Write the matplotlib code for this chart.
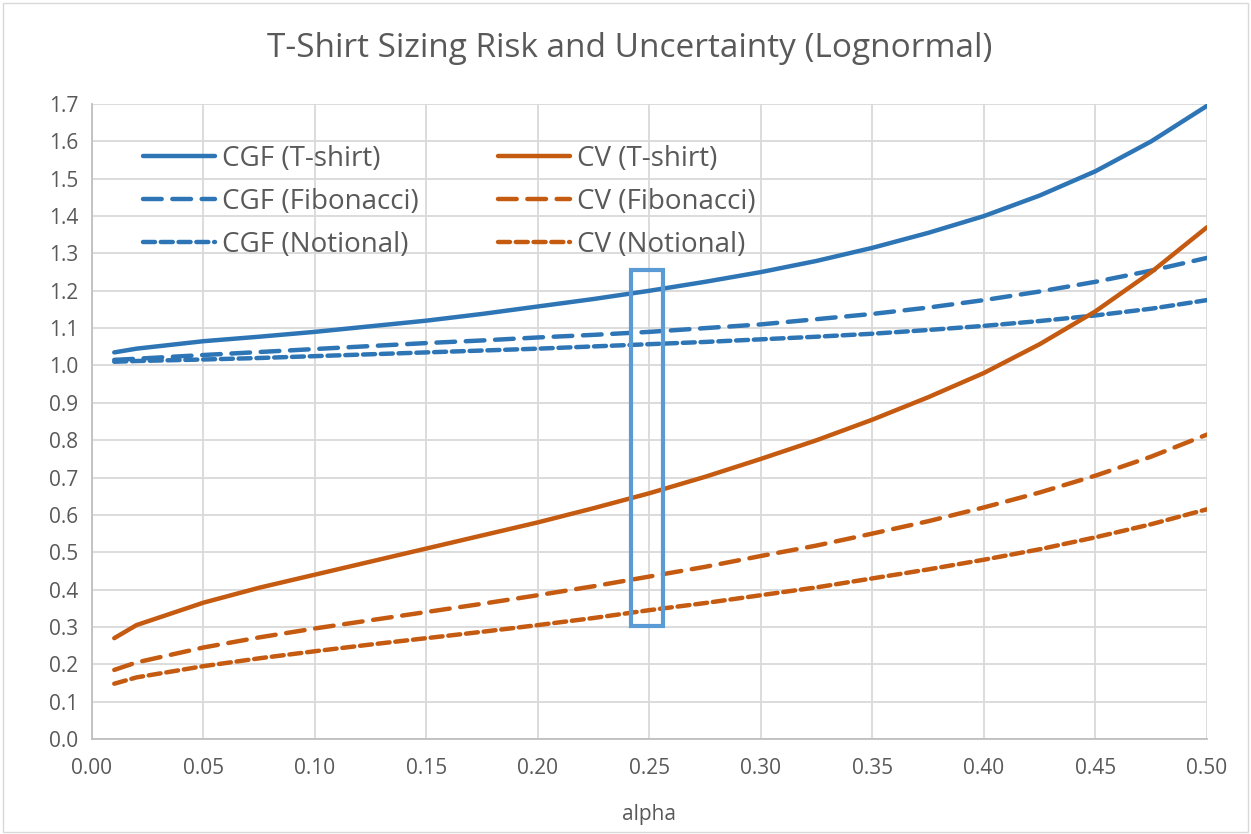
import matplotlib
matplotlib.use("Agg")
import matplotlib.pyplot as plt
import matplotlib.patches as patches
import numpy as np

# alpha values and the six curves
alpha = [0.01, 0.02, 0.05, 0.075, 0.10, 0.125, 0.15, 0.175, 0.20, 0.225, 0.25,
         0.275, 0.30, 0.325, 0.35, 0.375, 0.40, 0.425, 0.45, 0.475, 0.50]

cgf_tshirt = [1.035, 1.045, 1.065, 1.077, 1.090, 1.105, 1.120, 1.138, 1.158, 1.178, 1.200,
              1.224, 1.250, 1.280, 1.315, 1.355, 1.400, 1.455, 1.520, 1.600, 1.695]
cgf_fib = [1.015, 1.018, 1.028, 1.036, 1.044, 1.052, 1.060, 1.067, 1.075, 1.082, 1.090,
           1.100, 1.110, 1.124, 1.138, 1.155, 1.175, 1.198, 1.224, 1.254, 1.288]
cgf_notional = [1.010, 1.012, 1.016, 1.020, 1.025, 1.030, 1.035, 1.040, 1.045, 1.051, 1.057,
                1.063, 1.070, 1.077, 1.085, 1.095, 1.106, 1.119, 1.134, 1.152, 1.175]
cv_tshirt = [0.270, 0.305, 0.365, 0.405, 0.440, 0.475, 0.510, 0.545, 0.580, 0.618, 0.658,
             0.702, 0.750, 0.800, 0.855, 0.915, 0.980, 1.057, 1.145, 1.250, 1.370]
cv_fib = [0.185, 0.205, 0.245, 0.272, 0.296, 0.318, 0.340, 0.362, 0.385, 0.409, 0.435,
          0.461, 0.490, 0.518, 0.550, 0.583, 0.620, 0.660, 0.705, 0.756, 0.815]
cv_notional = [0.148, 0.165, 0.195, 0.216, 0.235, 0.253, 0.270, 0.287, 0.305, 0.324, 0.345,
               0.364, 0.385, 0.406, 0.430, 0.454, 0.480, 0.508, 0.540, 0.575, 0.615]

# highlighted band around alpha = 0.25
band_x = (0.2417, 0.2560)
band_y = (0.303, 1.256)

BLUE = '#2E75B6'
ORANGE = '#C55A11'
GREY_TXT = '#595959'
GRID = '#D9D9D9'

plt.rcParams['font.family'] = ['Open Sans', 'DejaVu Sans']

fig = plt.figure(figsize=(12.51, 8.34), dpi=100)
ax = fig.add_axes([0.0735, 0.1139, 0.8913, 0.7614])

lw = 3.2
long_dash = (4.2, 2.4)
short_dash = (2.7, 1.3)

series = [
    (cgf_tshirt, BLUE, None, 'CGF (T-shirt)'),
    (cgf_fib, BLUE, long_dash, 'CGF (Fibonacci)'),
    (cgf_notional, BLUE, short_dash, 'CGF (Notional)'),
    (cv_tshirt, ORANGE, None, 'CV (T-shirt)'),
    (cv_fib, ORANGE, long_dash, 'CV (Fibonacci)'),
    (cv_notional, ORANGE, short_dash, 'CV (Notional)'),
]
for ys, col, dash, label in series:
    line, = ax.plot(alpha, ys, color=col, lw=lw, label=label,
                    solid_capstyle='round', dash_capstyle='round')
    if dash is not None:
        line.set_dashes(dash)

rect = patches.Rectangle(
    (band_x[0], band_y[0]), band_x[1] - band_x[0], band_y[1] - band_y[0],
    linewidth=3.0, edgecolor='#5B9BD5', facecolor='none', zorder=5,
)
ax.add_patch(rect)

ax.set_xlim(0, 0.5)
ax.set_ylim(0, 1.7)
ax.set_xticks(np.arange(0, 0.501, 0.05))
ax.set_yticks(np.arange(0, 1.701, 0.1))
ax.xaxis.set_major_formatter(matplotlib.ticker.FormatStrFormatter('%.2f'))
ax.yaxis.set_major_formatter(matplotlib.ticker.FormatStrFormatter('%.1f'))
ax.tick_params(length=0, labelsize=15, labelcolor=GREY_TXT)
ax.tick_params(axis='x', pad=14)
ax.tick_params(axis='y', pad=10)
ax.grid(True, color=GRID, lw=1.3)
ax.set_axisbelow(True)
for side in ['top', 'right']:
    ax.spines[side].set_visible(False)
for side in ['left', 'bottom']:
    ax.spines[side].set_color('#BFBFBF')
    ax.spines[side].set_linewidth(1.3)

ax.set_xlabel('alpha', fontsize=15, color=GREY_TXT, labelpad=18)

leg = ax.legend(ncol=2, loc='upper left', bbox_to_anchor=(0.033, 0.958),
                frameon=False, fontsize=20, borderpad=0, handlelength=2.6,
                handletextpad=0.25, columnspacing=2.85, labelspacing=0.55,
                labelcolor=GREY_TXT)

fig.text(0.503, 0.942, 'T-Shirt Sizing Risk and Uncertainty (Lognormal)',
         ha='center', va='center', fontsize=24, color=GREY_TXT)

fig.patches.append(patches.Rectangle((0.002, 0.002), 0.996, 0.994, transform=fig.transFigure,
                                     fill=False, edgecolor=GRID, lw=1.0))

fig.savefig('out.png', dpi=100)
